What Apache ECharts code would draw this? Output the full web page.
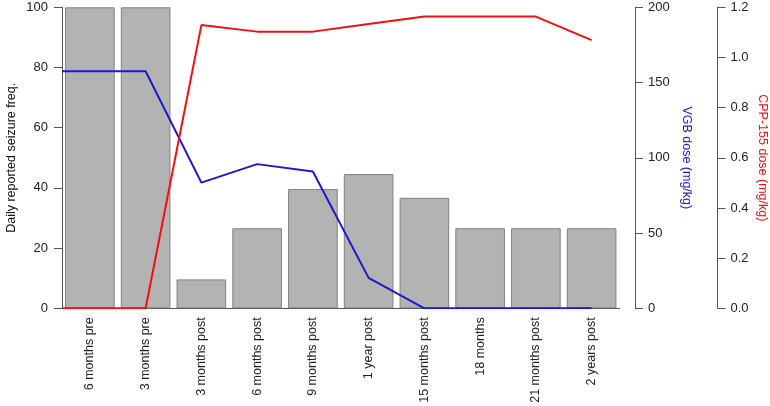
<!DOCTYPE html>
<html>
<head>
<meta charset="utf-8">
<title>seizure freq vs dose</title>
<script src="https://cdn.jsdelivr.net/npm/echarts@6/dist/echarts.min.js"></script>
<style>
  html, body { margin: 0; padding: 0; background: #fff; }
  #chart { width: 770px; height: 406px; }
</style>
</head>
<body>
<div id="chart"></div>
<script>
  /******************/
  //region    //data

  let categories = ['6 months pre', '3 months pre', '3 months post', '6 months post', '9 months post',
    '1 year post', '15 months post', '18 months', '21 months post', '2 years post'];
  let seizureFreq = [100, 100, 9.6, 26.6, 39.6, 44.6, 36.7, 26.6, 26.6, 26.6];

  // dose lines sit on a time scale counted in categories (first point at the start)
  let doseX = [0, 1.5, 2.5, 3.5, 4.5, 5.5, 6.5, 7.5, 8.5, 9.5];
  let vgbDose = [157.5, 157.5, 83.5, 95.8, 90.9, 20.2, 0, 0, 0, 0];
  let cppDose = [0, 0, 1.129, 1.103, 1.103, 1.133, 1.163, 1.163, 1.163, 1.069];

  let freqTicks = [0, 100, 20];
  let vgbTicks = [0, 200, 50];
  let cppTicks = [0, 1.2, 0.2];

  //endregion

  /******************/
  //region    //chart

  let font = 'Liberation Sans';
  let axisColor = '#555';

  function yAxis(ticks, name, color, offset, nameGap, rotate, digits) {
    return {
      type: 'value',
      position: offset === null ? 'left' : 'right',
      offset: offset === null ? 1 : offset,
      min: ticks[0], max: ticks[1], interval: ticks[2],
      name: name,
      nameLocation: 'middle',
      nameGap: nameGap,
      nameRotate: rotate,
      nameMoveOverlap: false,
      nameTextStyle: {color: color, fontFamily: font, fontSize: 12.5},
      axisLine: {show: true, lineStyle: {color: axisColor, width: 1}},
      axisTick: {show: true, length: 8, lineStyle: {color: axisColor}},
      axisLabel: {
        color: '#222', fontFamily: font, fontSize: 13, margin: 13,
        formatter: v => digits ? v.toFixed(digits) : v
      },
      splitLine: {show: false},
    };
  }

  let chart = echarts.init(document.getElementById('chart'));

  let option = {
    animation: false,
    grid: {left: 62, right: 150.5, top: 7.3, bottom: 97.7, outerBoundsMode: 'none', containLabel: false},
    xAxis: [
      {
        type: 'category',
        data: categories,
        offset: 1,
        axisLine: {lineStyle: {color: axisColor}},
        axisTick: {length: 6, lineStyle: {color: axisColor}},
        axisLabel: {rotate: 90, margin: 8, color: '#222', fontFamily: font, fontSize: 12.5, interval: 0},
      },
      {
        type: 'value',
        min: 0, max: categories.length,
        show: false,
      }
    ],
    yAxis: [
      yAxis(freqTicks, 'Daily reported seizure freq.', '#111', null, 43, 90, 0),
      yAxis(vgbTicks, 'VGB dose (mg/kg)', '#1a1acc', 15.5, 45, -90, 0),
      yAxis(cppTicks, 'CPP-155 dose (mg/kg)', '#e8141e', 98, 38, -90, 1),
    ],
    series: [
      {
        type: 'bar',
        data: seizureFreq,
        barCategoryGap: '11%',
        itemStyle: {color: '#b3b3b3', borderColor: '#808080', borderWidth: 1},
      },
      {
        type: 'line',
        xAxisIndex: 1, yAxisIndex: 1,
        data: doseX.map((x, i) => [x, vgbDose[i]]),
        symbol: 'none',
        lineStyle: {color: '#1a1acc', width: 2},
      },
      {
        type: 'line',
        xAxisIndex: 1, yAxisIndex: 2,
        data: doseX.map((x, i) => [x, cppDose[i]]),
        symbol: 'none',
        lineStyle: {color: '#f01010', width: 2},
      },
    ]
  };

  chart.setOption(option);

  //endregion
</script>
</body>
</html>
